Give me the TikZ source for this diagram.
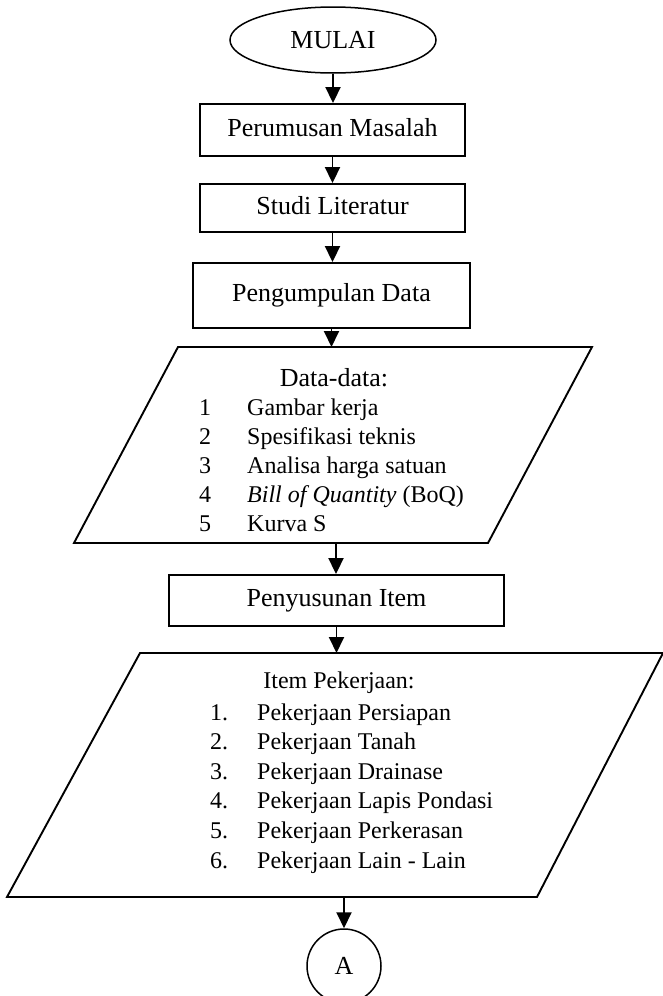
\documentclass[tikz,border=0pt]{standalone}
\usepackage{fontspec}
\setmainfont{Liberation Serif}
\usetikzlibrary{arrows.meta,shapes.geometric}
\newcommand{\fsbig}{\fontsize{26}{31}\selectfont}
\newcommand{\fssmall}{\fontsize{24}{29}\selectfont}
\tikzset{
  procbox/.style={draw,line width=1.9pt,inner sep=0pt,font=\fsbig},
  arr/.style={line width=1.9pt,-{Triangle[length=16pt,width=15pt]}},
  para/.style={draw,line width=1.9pt,line join=miter},
  itemtxt/.style={font=\fssmall,anchor=base west,inner sep=0pt},
  numtxt/.style={font=\fssmall,anchor=base,inner sep=0pt},
  numtxtw/.style={font=\fssmall,anchor=base west,inner sep=0pt},
}
\begin{document}
\begin{tikzpicture}[x=1pt,y=-1pt]
\useasboundingbox (0,0) rectangle (663,996);
\clip (0,0) rectangle (663,996);

% start
\node[ellipse,draw,line width=1.5pt,minimum width=206pt,minimum height=66pt,inner sep=0pt,font=\fsbig] (start) at (333,40) {MULAI};

% boxes
\node[procbox,minimum width=265pt,minimum height=52pt] (b1) at (332.5,130) {\strut Perumusan Masalah};
\node[procbox,minimum width=265pt,minimum height=48pt] (b2) at (332.5,208) {\strut Studi Literatur};
\node[procbox,minimum width=277pt,minimum height=65pt] (b3) at (331.5,295.5) {\strut Pengumpulan Data};

% parallelogram 1
\draw[para] (178,347) -- (592,347) -- (488,543) -- (74,543) -- cycle;
\coordinate (p1t) at (333,347);
\coordinate (p1b) at (336,543);
\node[font=\fsbig,anchor=base,inner sep=0pt] (dh) at (334,386) {Data-data:};
\node[numtxt] (dn1) at (205,415) {1};
\node[numtxt] (dn2) at (205,444) {2};
\node[numtxt] (dn3) at (205,473) {3};
\node[numtxt] (dn4) at (205,502) {4};
\node[numtxt] (dn5) at (205,531) {5};
\node[itemtxt] (dt1) at (247,415) {Gambar kerja};
\node[itemtxt] (dt2) at (247,444) {Spesifikasi teknis};
\node[itemtxt] (dt3) at (247,473) {Analisa harga satuan};
\node[itemtxt] (dt4) at (247,502) {\textit{Bill of Quantity} (BoQ)};
\node[itemtxt] (dt5) at (247,531) {Kurva S};

% box 4
\node[procbox,minimum width=335pt,minimum height=51pt] (b4) at (336.5,600.5) {\strut Penyusunan Item};

% parallelogram 2
\draw[para] (140,653) -- (663,653) -- (537,897) -- (7,897) -- cycle;
\coordinate (p2t) at (337,653);
\coordinate (p2b) at (344,897);
\node[font=\fssmall,anchor=base,inner sep=0pt] (ih) at (339,688) {Item Pekerjaan:};
\node[numtxtw] (in1) at (210,720) {1.};
\node[numtxtw] (in2) at (210,749.6) {2.};
\node[numtxtw] (in3) at (210,779.2) {3.};
\node[numtxtw] (in4) at (210,808.8) {4.};
\node[numtxtw] (in5) at (210,838.4) {5.};
\node[numtxtw] (in6) at (210,868) {6.};
\node[itemtxt] (it1) at (257,720) {Pekerjaan Persiapan};
\node[itemtxt] (it2) at (257,749.6) {Pekerjaan Tanah};
\node[itemtxt] (it3) at (257,779.2) {Pekerjaan Drainase};
\node[itemtxt] (it4) at (257,808.8) {Pekerjaan Lapis Pondasi};
\node[itemtxt] (it5) at (257,838.4) {Pekerjaan Perkerasan};
\node[itemtxt] (it6) at (257,868) {Pekerjaan Lain - Lain};

% connector A
\node[circle,draw,line width=1.5pt,minimum size=74pt,inner sep=0pt,font=\fsbig] (ca) at (344,966) {A};

% arrows
\draw[arr] (start.south) -- (start.south |- b1.north);
\draw[arr] (b1.south) -- (b1.south |- b2.north);
\draw[arr] (b2.south) -- (b2.south |- b3.north);
\draw[arr] (b3.south) -- (b3.south |- p1t);
\draw[arr] (p1b) -- (p1b |- b4.north);
\draw[arr] (b4.south) -- (b4.south |- p2t);
\draw[arr] (p2b) -- (ca.north);
\end{tikzpicture}
\end{document}
